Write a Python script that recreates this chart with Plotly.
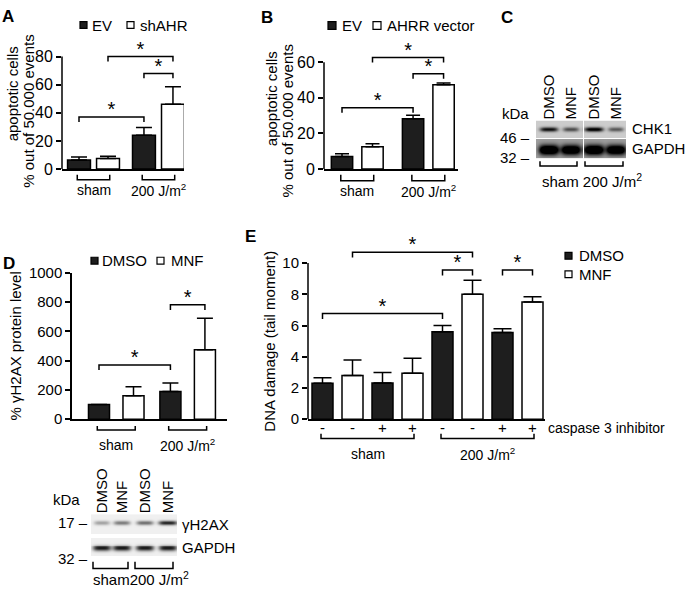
import numpy as np
import plotly.graph_objects as go

W, H = 685, 596
FONT = "Liberation Sans, Arial, sans-serif"
DARK = "#1e1e1e"


def fx(p):
    return p / W


def fy(p):
    return 1 - p / H


# ---------------- data ----------------
GROUPS = ["sham", "200 J/m<sup>2</sup>"]

# Panel A
A_ev = [6.5, 24.0]
A_ev_err = [2.0, 5.5]
A_shahr = [7.5, 46.0]
A_shahr_err = [1.5, 12.5]
A_ticks = [0, 20, 40, 60, 80]
A_sig = [(0, 2, 37.0), (1, 3, 80.0), (2, 3, 68.0)]

# Panel B
B_ev = [7.1, 28.2]
B_ev_err = [1.5, 2.0]
B_ahrr = [12.5, 47.3]
B_ahrr_err = [1.7, 1.0]
B_ticks = [0, 20, 40, 60]
B_sig = [(0, 2, 34.4), (1, 3, 62.6), (2, 3, 53.5)]

# Panel D
D_dmso = [100, 190]
D_dmso_err = [0, 58]
D_mnf = [160, 475]
D_mnf_err = [62, 215]
D_ticks = [0, 200, 400, 600, 800, 1000]
D_sig = [(0, 2, 371), (2, 3, 781)]

# Panel E
E_treat = ["DMSO", "MNF", "DMSO", "MNF", "DMSO", "MNF", "DMSO", "MNF"]
E_casp = ["-", "-", "+", "+", "-", "-", "+", "+"]
E_vals = [2.3, 2.8, 2.32, 2.95, 5.6, 8.0, 5.55, 7.5]
E_err = [0.35, 1.0, 0.68, 0.95, 0.4, 0.9, 0.25, 0.35]
E_ticks = [0, 2, 4, 6, 8, 10]
E_sig = [(0, 4, 6.77), (1, 5, 10.7), (4, 5, 9.55), (6, 7, 9.55)]

# Blots (relative band intensities)
C_lanes = ["DMSO", "MNF", "DMSO", "MNF"]
C_chk1 = [0.75, 0.5, 0.85, 0.45]
C_gapdh = [1.0, 0.95, 1.0, 0.95]
D_lanes = ["DMSO", "MNF", "DMSO", "MNF"]
D_h2ax = [0.3, 0.45, 0.5, 0.8]
D_gapdh = [0.85, 0.85, 0.85, 0.85]

# ---------------- figure ----------------
fig = go.Figure()
axes = {}
shapes = []
ann = []


def ids(n):
    return ("x" if n == 1 else f"x{n}"), ("y" if n == 1 else f"y{n}")


def txt(x, y, s, size=15, xanchor="center", yanchor="middle", angle=0,
        bold=False, xref="paper", yref="paper", yshift=0):
    if xref == "paper":
        x = fx(x)
    if yref == "paper":
        y = fy(y)
    ann.append(dict(x=x, y=y, xref=xref, yref=yref, text=s, showarrow=False,
                    xanchor=xanchor, yanchor=yanchor, textangle=angle,
                    yshift=yshift, borderpad=0,
                    font=dict(family=FONT, size=size, color="black",
                              weight="bold" if bold else "normal")))


def path(pts, xref="paper", yref="paper", w=1.5):
    def cx(v):
        return fx(v) if xref == "paper" else v

    def cy(v):
        return fy(v) if yref == "paper" else v
    d = "M " + " L ".join(f"{cx(a)},{cy(b)}" for a, b in pts)
    shapes.append(dict(type="path", path=d, xref=xref, yref=yref,
                       line=dict(color="black", width=w)))


def square(x0, y0, x1, y1, fill):
    shapes.append(dict(type="rect", xref="paper", yref="paper",
                       x0=fx(x0), x1=fx(x1), y0=fy(y1), y1=fy(y0),
                       fillcolor=fill, line=dict(color="black", width=1.2)))


PPU = {}


def setup(n, left, right, c0, unit, y0px, ppu, ytop, ticks, tfs, ylinemax=None):
    xid, yid = ids(n)
    PPU[n] = ppu
    xk = "xaxis" if n == 1 else f"xaxis{n}"
    yk = "yaxis" if n == 1 else f"yaxis{n}"
    axes[xk] = dict(domain=[fx(left), fx(right)],
                    range=[(left - c0) / unit, (right - c0) / unit],
                    anchor=yid, showline=True, linecolor="black", linewidth=1.5,
                    showticklabels=False, ticks="", showgrid=False,
                    zeroline=False, fixedrange=True)
    axes[yk] = dict(domain=[fy(y0px), fy(y0px - ytop * ppu)], range=[0, ytop],
                    anchor=xid, showline=ylinemax is None, linecolor="black",
                    linewidth=1.5, ticks="outside", ticklen=5, tickwidth=1.5,
                    tickcolor="black", tickvals=ticks, showgrid=False,
                    zeroline=False, fixedrange=True,
                    tickfont=dict(family=FONT, size=tfs, color="black"))
    if ylinemax is not None:
        shapes.append(dict(type="line", xref="paper", yref=yid,
                           x0=fx(left), x1=fx(left), y0=0, y1=ylinemax,
                           line=dict(color="black", width=1.5)))


def bars(n, pos, vals, errs, color, width, capw):
    xid, yid = ids(n)
    fig.add_trace(go.Bar(
        x=pos, y=vals, width=width, xaxis=xid, yaxis=yid,
        marker=dict(color=color, line=dict(color="black", width=1.5)),
        error_y=dict(type="data", array=errs, arrayminus=[0] * len(errs),
                     symmetric=False, color="black", thickness=1.5, width=capw),
        showlegend=False, hoverinfo="skip"))


def sig(n, pos, pairs, tip):
    xid, yid = ids(n)
    sx, sy = [], []
    for i, j, h in pairs:
        path([(pos[i], h - tip), (pos[i], h), (pos[j], h), (pos[j], h - tip)],
             xref=xid, yref=yid)
        sx.append((pos[i] + pos[j]) / 2)
        sy.append(h + 6.0 / PPU[n])
    fig.add_trace(go.Scatter(
        x=sx, y=sy, mode="text", text=["*"] * len(sx),
        textposition="middle center", cliponaxis=False,
        textfont=dict(family=FONT, size=20, color="black"),
        xaxis=xid, yaxis=yid, showlegend=False, hoverinfo="skip"))


def group_brackets(n, spans, ytop, ybot, ylab, pad, size=14):
    xid, _ = ids(n)
    for (a, b), g in zip(spans, GROUPS):
        path([(a - pad, ytop), (a - pad, ybot), (b + pad, ybot), (b + pad, ytop)],
             xref=xid, yref="paper")
        txt((a + b) / 2, ylab, g, size=size, xref=xid)


# ---- Panel A ----
stepA = 2.24
posA = [0, 1, stepA, stepA + 1]
setup(1, 62, 184, 79, 29, 165, 1.45, 100, A_ticks, 16, ylinemax=80)
bars(1, [posA[0], posA[2]], A_ev, A_ev_err, DARK, 0.79, 8)
bars(1, [posA[1], posA[3]], A_shahr, A_shahr_err, "white", 0.79, 8)
sig(1, posA, A_sig, 3.5)
group_brackets(1, [(posA[0], posA[1]), (posA[2], posA[3])], 171, 176, 187, 0.06)
square(80, 13, 87, 20, DARK)
txt(91, 16.5, "EV", xanchor="left")
square(127, 13, 134, 20, "white")
txt(139, 16.5, "shAHR", xanchor="left")
txt(12, 88, "apoptotic cells", angle=-90)
txt(29, 106, "% out of 50.000 events", angle=-90)
txt(8, 8, "A", size=17, bold=True)

# ---- Panel B ----
stepB = 2.33
posB = [0, 1, stepB, stepB + 1]
setup(2, 324, 458, 342, 30.5, 165, 1.835, 78, B_ticks, 16, ylinemax=60)
bars(2, [posB[0], posB[2]], B_ev, B_ev_err, DARK, 0.7, 7)
bars(2, [posB[1], posB[3]], B_ahrr, B_ahrr_err, "white", 0.7, 7)
sig(2, posB, B_sig, 2.8)
group_brackets(2, [(posB[0], posB[1]), (posB[2], posB[3])], 171, 177, 188, 0.04)
square(328, 13, 336, 21, DARK)
txt(341, 17, "EV", xanchor="left")
square(373, 13, 381, 21, "white")
txt(386, 17, "AHRR vector", xanchor="left")
txt(271, 93, "apoptotic cells", angle=-90)
txt(287, 116, "% out of 50.000 events", angle=-90)
txt(267, 9, "B", size=17, bold=True)

# ---- Panel D ----
stepD = 2.07
posD = [0, 1, stepD, stepD + 1]
setup(3, 72, 227, 99, 34.5, 423, 0.151, 1000, D_ticks, 15)
bars(3, [posD[0], posD[2]], D_dmso, D_dmso_err, DARK, 0.61, 8)
bars(3, [posD[1], posD[3]], D_mnf, D_mnf_err, "white", 0.61, 8)
sig(3, posD, D_sig, 35)
group_brackets(3, [(posD[0], posD[1]), (posD[2], posD[3])], 430, 434, 450, 0.05)
square(91, 256, 98, 263, DARK)
txt(101, 259.5, "DMSO", xanchor="left")
square(157, 256, 164, 263, "white")
txt(170, 259.5, "MNF", xanchor="left")
txt(15, 348, "% γH2AX protein level", angle=-90)
txt(9, 262, "D", size=17, bold=True)

# ---- Panel E ----
posE = list(range(len(E_vals)))
setup(4, 308, 545, 322.5, 30, 423, 16.1, 11.2, E_ticks, 15, ylinemax=10)
for t, col in (("DMSO", DARK), ("MNF", "white")):
    idx = [i for i, v in enumerate(E_treat) if v == t]
    bars(4, [posE[i] for i in idx], [E_vals[i] for i in idx],
         [E_err[i] for i in idx], col, 0.7, 9)
sig(4, posE, E_sig, 0.35)
for p, s in zip(posE, E_casp):
    txt(p, 432, s, size=15, xref="x4")
txt(547, 432, "caspase 3 inhibitor", size=14, xanchor="left")
group_brackets(4, [(posE[0], posE[3]), (posE[4], posE[7])], 438, 443, 459, 0.05)
square(565, 251, 572, 258, DARK)
txt(578, 254.5, "DMSO", xanchor="left")
square(565, 270, 572, 277, "white")
txt(578, 273.5, "MNF", xanchor="left")
txt(270, 343, "DNA damage (tail moment)", angle=-90)
txt(250, 235, "E", size=17, bold=True)


# ---- Blots ----
def make_blot(ncols, nrows, strips, lane_cx, vsep=None):
    z = np.full((nrows, ncols), np.nan)
    xx = np.arange(ncols) + 0.5
    for r0, r1, bg, cy, hh, intens, hw0, hw1 in strips:
        yy = np.arange(r0, r1) + 0.5
        block = np.full((r1 - r0, ncols), bg, dtype=float)
        for cx, inten in zip(lane_cx, intens):
            hw = hw0 + hw1 * inten
            prof_x = np.exp(-(np.abs(xx - cx) / hw) ** 4)
            prof_y = np.exp(-((yy - cy) / hh) ** 2)
            block += inten * np.outer(prof_y, prof_x)
        z[r0:r1] = np.clip(block, 0, 1)
    if vsep is not None:
        z[:, vsep] = np.nan
    return z


def blot_axes(n, left, right, top, bottom, lane_cx, lanes):
    xid, yid = ids(n)
    ncols, nrows = right - left, bottom - top
    axes[f"xaxis{n}"] = dict(domain=[fx(left), fx(right)], range=[0, ncols],
                             anchor=yid, side="top", showline=False,
                             showgrid=False, zeroline=False, ticks="",
                             tickvals=lane_cx, ticktext=lanes, tickangle=-90,
                             tickfont=dict(family=FONT, size=15, color="black"),
                             fixedrange=True)
    axes[f"yaxis{n}"] = dict(domain=[fy(bottom), fy(top)], range=[nrows, 0],
                             anchor=xid, showline=False, showgrid=False,
                             zeroline=False, showticklabels=False, ticks="",
                             fixedrange=True)
    return xid, yid, ncols, nrows


GRAY = [[0, "#ffffff"], [1, "#000000"]]

# C blot
laneC = [13, 35, 58, 80]
xid, yid, nc, nr = blot_axes(5, 536, 626, 115, 154, laneC, C_lanes)
zC = make_blot(nc, nr, [
    (0, 18, 0.20, 9.5, 2.3, C_chk1, 6, 4),
    (19, nr, 0.38, 30, 5.0, C_gapdh, 10, 0),
], laneC, vsep=47)
fig.add_trace(go.Heatmap(z=zC, x=np.arange(nc) + 0.5, y=np.arange(nr) + 0.5,
                         xaxis=xid, yaxis=yid, colorscale=GRAY, zmin=0, zmax=1,
                         showscale=False, hoverinfo="skip"))
txt(515, 108, "kDa")
txt(531, 133, "46 –", xanchor="right")
txt(531, 153, "32 –", xanchor="right")
txt(631, 123, "CHK1", xanchor="left")
txt(631, 144, "GAPDH", xanchor="left")
path([(540, 157), (540, 162), (577, 162), (577, 157)])
path([(585, 157), (585, 162), (623, 162), (623, 157)])
txt(541, 177, "sham 200 J/m<sup>2</sup>", xanchor="left")
txt(507, 9, "C", size=17, bold=True)

# D blot
laneD = [11, 31, 54, 77]
xid, yid, nc, nr = blot_axes(6, 91, 177, 521, 564, laneD, D_lanes)
zD = make_blot(nc, nr, [
    (0, 20, 0.06, 9.0, 2.2, D_h2ax, 7, 3),
    (24, nr, 0.06, 35, 3.0, D_gapdh, 9, 0),
], laneD)
fig.add_trace(go.Heatmap(z=zD, x=np.arange(nc) + 0.5, y=np.arange(nr) + 0.5,
                         xaxis=xid, yaxis=yid, colorscale=GRAY, zmin=0, zmax=1,
                         showscale=False, hoverinfo="skip"))
txt(66, 506, "kDa")
txt(89, 530, "17 –", xanchor="right")
txt(89, 567, "32 –", xanchor="right")
txt(181, 532, "γH2AX", xanchor="left")
txt(181, 555, "GAPDH", xanchor="left")
path([(93, 570), (93, 577), (128, 577), (128, 570)])
path([(135, 570), (135, 577), (173, 577), (173, 570)])
txt(92, 587, "sham200 J/m<sup>2</sup>", xanchor="left")

fig.update_layout(
    width=W, height=H, margin=dict(l=0, r=0, t=0, b=0),
    paper_bgcolor="white", plot_bgcolor="white", barmode="overlay",
    showlegend=False, shapes=shapes, annotations=ann,
    font=dict(family=FONT, color="black"), **axes)

fig.write_html("out.html", config={"displayModeBar": False},
               post_script="document.body.style.margin='0px';"
                           "document.body.style.overflow='hidden';")
